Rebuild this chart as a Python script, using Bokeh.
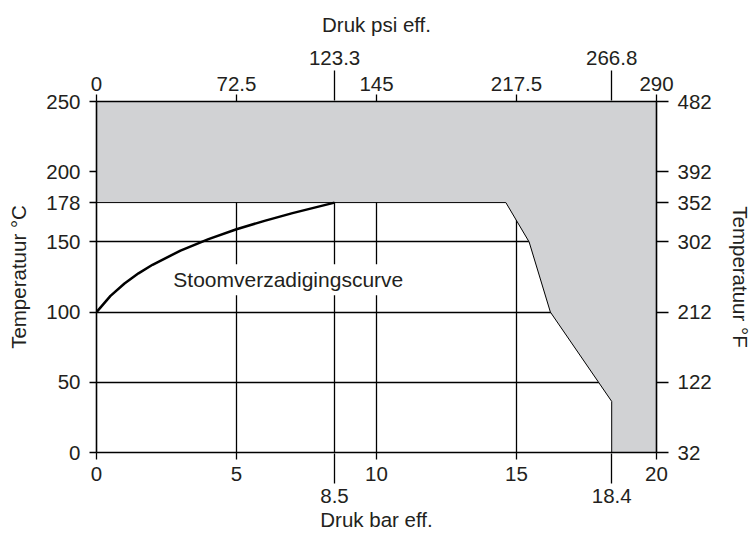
from bokeh.plotting import figure
from bokeh.models import LinearAxis, Range1d, FixedTicker, CustomJSTickFormatter, Label, Grid
from bokeh.embed import file_html
from bokeh.resources import INLINE

# ---- data ----
bar_ticks_main = [0, 5, 10, 15, 20]
bar_ticks_marked = [8.5, 18.4]
psi_ticks_main = [0, 72.5, 145, 217.5, 290]
psi_ticks_marked = [123.3, 266.8]
temp_c_ticks = [0, 50, 100, 150, 178, 200, 250]
temp_f_ticks = [32, 122, 212, 302, 352, 392, 482]
grid_x = [5, 8.5, 10, 15]
grid_y = [50, 100, 150]
sat_pressure_bar = [0, 0.5, 1, 1.5, 2, 3, 4, 5, 6, 7, 8, 8.5]
sat_temp_c = [100, 111.6, 120.4, 127.6, 133.7, 143.8, 152, 159, 165, 170.5, 175.5, 178]
zone_x = [0, 14.62, 15.45, 16.21, 18.4, 18.4, 20, 20, 0]
zone_y = [178, 178, 150, 100, 36.4, 0, 0, 250, 250]

FONT = "Liberation Sans"
TXT = "#231f20"
FS = "20.5px"

p = figure(frame_width=560, frame_height=351, x_range=Range1d(0, 20), y_range=Range1d(0, 250),
           output_backend="svg", toolbar_location=None,
           x_axis_location=None, y_axis_location=None,
           min_border_left=96, min_border_right=97, min_border_top=101, min_border_bottom=82,
           outline_line_color=None, background_fill_color="white")
p.extra_x_ranges = {"psi": Range1d(0, 290)}
p.extra_y_ranges = {"F": Range1d(32, 482)}

fmt = CustomJSTickFormatter(code="return String(tick);")


def make_axis(ticks, **kw):
    ax = LinearAxis(ticker=FixedTicker(ticks=ticks, minor_ticks=[]), formatter=fmt, **kw)
    ax.major_label_text_font = FONT
    ax.major_label_text_font_size = FS
    ax.major_label_text_color = TXT
    ax.axis_label_text_font = FONT
    ax.axis_label_text_font_size = FS
    ax.axis_label_text_font_style = "normal"
    ax.axis_label_text_color = TXT
    ax.major_tick_line_color = "black"
    ax.major_tick_line_width = 1.3
    ax.minor_tick_line_color = None
    ax.axis_line_color = "black"
    ax.axis_line_width = 1.6
    return ax


# bottom axes (bar)
bA = make_axis(bar_ticks_main, major_tick_out=7, major_tick_in=0, major_label_standoff=7)
bB = make_axis(bar_ticks_marked, major_tick_out=0, major_tick_in=30, major_label_standoff=5,
               axis_label="Druk bar eff.", axis_label_standoff=2)
bB.axis_line_color = None
p.add_layout(bA, "below")
p.add_layout(bB, "below")

# top axes (psi)
tA = make_axis(psi_ticks_main, x_range_name="psi", major_tick_out=7, major_tick_in=0, major_label_standoff=4)
tB = make_axis(psi_ticks_marked, x_range_name="psi", major_tick_out=3, major_tick_in=27,
               major_label_standoff=6, axis_label="Druk psi eff.", axis_label_standoff=12)
tB.axis_line_color = None
p.add_layout(tA, "above")
p.add_layout(tB, "above")

# left (°C) and right (°F)
lA = make_axis(temp_c_ticks, major_tick_out=7, major_tick_in=0, major_label_standoff=9,
               axis_label="Temperatuur °C", axis_label_standoff=13)
rA = make_axis(temp_f_ticks, y_range_name="F", major_tick_out=12, major_tick_in=0, major_label_standoff=9,
               axis_label="Temperatuur °F", axis_label_standoff=14)
p.add_layout(lA, "left")
p.add_layout(rA, "right")

# grid lines (hidden under the grey zone where it covers them)
p.add_layout(Grid(dimension=0, ticker=FixedTicker(ticks=grid_x, minor_ticks=[]),
                  grid_line_color="black", grid_line_width=1.3))
p.add_layout(Grid(dimension=1, ticker=FixedTicker(ticks=grid_y, minor_ticks=[]),
                  grid_line_color="black", grid_line_width=1.3))

p.patch(zone_x, zone_y, fill_color="#d1d2d4", line_color="black", line_width=1)
p.line(sat_pressure_bar, sat_temp_c, line_color="black", line_width=2.5)

p.add_layout(Label(x=2.6, y=123, text="Stoomverzadigingscurve", text_font=FONT,
                   text_font_size="21px", text_color=TXT, text_baseline="alphabetic",
                   background_fill_color="white", padding=4))

open("out.html", "w").write(file_html(p, INLINE))
